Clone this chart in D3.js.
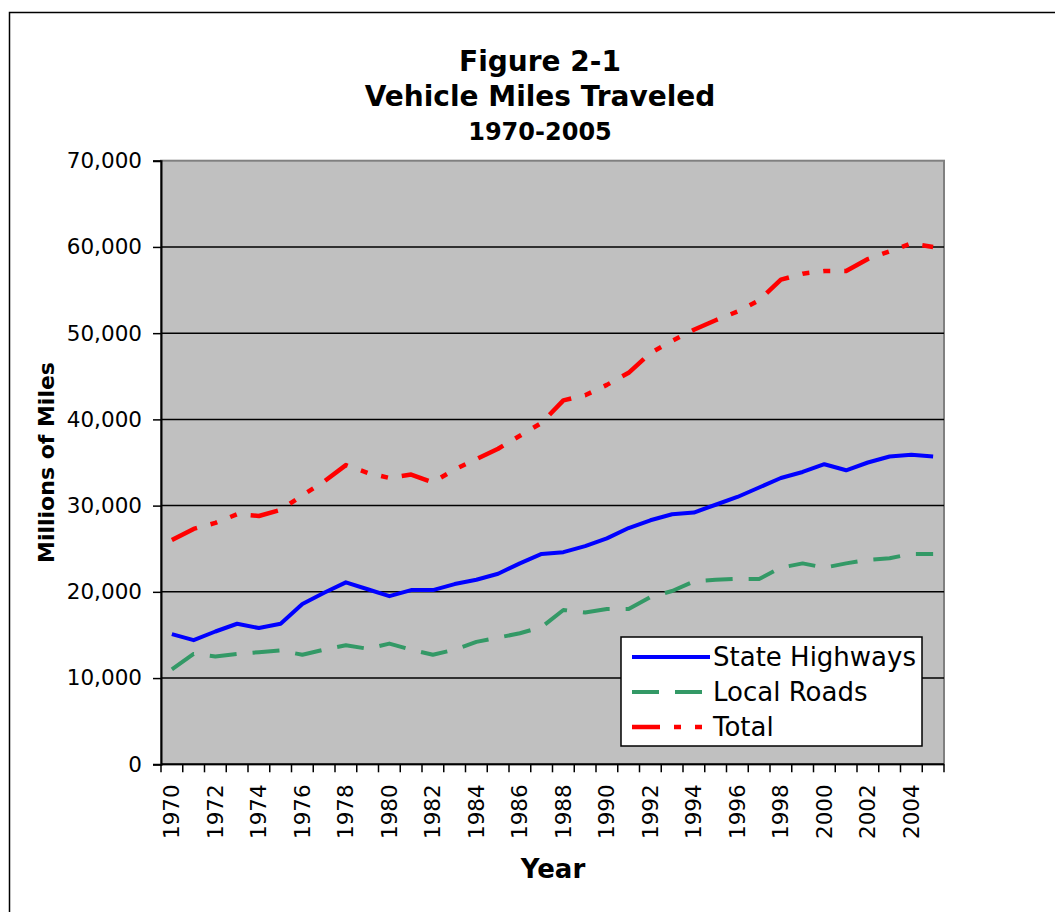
<html>
<head>
<meta charset="utf-8">
<style>
body { margin: 0; background: #ffffff; }
text { font-family: "DejaVu Sans", Verdana, sans-serif; fill: #000; }
</style>
</head>
<body>
<div id="plot"></div>

<script src="https://d3js.org/d3.v7.min.js"></script>
<script type="text/javascript">
// data (millions of miles)
var years = [1970, 1971, 1972, 1973, 1974, 1975, 1976, 1977, 1978, 1979,
             1980, 1981, 1982, 1983, 1984, 1985, 1986, 1987, 1988, 1989,
             1990, 1991, 1992, 1993, 1994, 1995, 1996, 1997, 1998, 1999,
             2000, 2001, 2002, 2003, 2004, 2005];

var stateHighways = [15100, 14400, 15400, 16300, 15800, 16300, 18600, 19900, 21100, 20300,
                     19500, 20200, 20200, 20900, 21400, 22100, 23300, 24400, 24600, 25300,
                     26200, 27400, 28300, 29000, 29200, 30100, 31000, 32100, 33200, 33900,
                     34800, 34100, 35000, 35700, 35900, 35700];

var localRoads = [11000, 12800, 12500, 12800, 13000, 13200, 12700, 13300, 13800, 13400,
                  14000, 13300, 12700, 13300, 14200, 14700, 15200, 15900, 17900, 17600,
                  18000, 18000, 19400, 20100, 21200, 21400, 21500, 21500, 22800, 23300,
                  22800, 23300, 23700, 23900, 24400, 24400];

var total = [26000, 27300, 28000, 29000, 28800, 29500, 31200, 32800, 34700, 33800,
             33200, 33600, 32700, 34200, 35400, 36600, 38100, 39600, 42200, 42800,
             44000, 45400, 47700, 49100, 50400, 51500, 52500, 53800, 56200, 56900,
             57200, 57200, 58600, 59500, 60400, 60000];

var yTicks = [0, 10000, 20000, 30000, 40000, 50000, 60000, 70000];
var xLabels = years.filter(function(d){ return d % 2 == 0; });

var seriesNames = ["State Highways", "Local Roads", "Total"];

var W = 1055, H = 912;
var plot = {left: 161, right: 944, top: 160.7, bottom: 764.3};

var svg = d3.select("#plot")
    .append("svg")
    .attr("width", W)
    .attr("height", H);

// outer frame
svg.append("rect")
    .attr("x", 9.5).attr("y", 12.5)
    .attr("width", 1100).attr("height", 1000)
    .attr("fill", "white")
    .attr("stroke", "#000")
    .attr("stroke-width", 1.5);

var x = d3.scaleBand()
    .domain(years)
    .range([plot.left, plot.right])
    .paddingInner(0).paddingOuter(0);

var y = d3.scaleLinear()
    .domain([0, 70000])
    .range([plot.bottom, plot.top]);

// plot area
svg.append("rect")
    .attr("x", plot.left).attr("y", plot.top)
    .attr("width", plot.right - plot.left)
    .attr("height", plot.bottom - plot.top)
    .attr("fill", "#c0c0c0")
    .attr("stroke", "#808080")
    .attr("stroke-width", 2);

// gridlines
svg.append("g")
    .selectAll("line")
    .data(yTicks.filter(function(d){ return d > 0 && d < 70000; }))
    .enter().append("line")
    .attr("x1", plot.left).attr("x2", plot.right)
    .attr("y1", function(d){ return y(d); })
    .attr("y2", function(d){ return y(d); })
    .attr("stroke", "#000")
    .attr("stroke-width", 1.5);

// y axis
var yAxis = svg.append("g")
    .attr("transform", "translate(" + plot.left + ",0)")
    .call(d3.axisLeft(y).tickValues(yTicks).tickSize(8).tickPadding(11)
          .tickFormat(d3.format(",")));
yAxis.select(".domain").attr("stroke", "#000").attr("stroke-width", 2);
yAxis.selectAll(".tick line").attr("stroke", "#000").attr("stroke-width", 1.5);
yAxis.selectAll("text")
    .style("font-family", "DejaVu Sans, Verdana, sans-serif")
    .style("font-size", "21.5px")
    .attr("fill", "#000");

// x axis: ticks on category boundaries, labels every other year
var bounds = years.map(function(d){ return x(d); }).concat([x(years[years.length-1]) + x.bandwidth()]);
svg.append("g")
    .selectAll("line")
    .data(bounds)
    .enter().append("line")
    .attr("x1", function(d){ return d; }).attr("x2", function(d){ return d; })
    .attr("y1", plot.bottom).attr("y2", plot.bottom + 8)
    .attr("stroke", "#000")
    .attr("stroke-width", 1.5);

svg.append("line")
    .attr("x1", plot.left).attr("x2", plot.right)
    .attr("y1", plot.bottom).attr("y2", plot.bottom)
    .attr("stroke", "#000").attr("stroke-width", 2);

var xAxis = svg.append("g")
    .attr("transform", "translate(0," + plot.bottom + ")")
    .call(d3.axisBottom(x).tickValues(xLabels).tickSize(0).tickPadding(0));
xAxis.select(".domain").remove();
xAxis.selectAll("text")
    .style("font-family", "DejaVu Sans, Verdana, sans-serif")
    .style("font-size", "21.5px")
    .attr("fill", "#000")
    .attr("transform", "rotate(-90)")
    .attr("text-anchor", "end")
    .attr("x", -20)
    .attr("y", 0)
    .attr("dy", "0.35em");

// lines
var series = [
  {name: seriesNames[0], values: stateHighways, color: "#0000ff", dash: null, width: 4},
  {name: seriesNames[1], values: localRoads, color: "#339966", dash: "27,16", width: 4},
  {name: seriesNames[2], values: total, color: "#ff0000", dash: "28,14,7,14,7,14", width: 4.5}
];

var line = d3.line()
    .x(function(d, i){ return x(years[i]) + x.bandwidth() / 2; })
    .y(function(d){ return y(d); });

svg.append("g")
    .selectAll("path")
    .data(series)
    .enter().append("path")
    .attr("d", function(d){ return line(d.values); })
    .attr("fill", "none")
    .attr("stroke", function(d){ return d.color; })
    .attr("stroke-width", function(d){ return d.width; })
    .attr("stroke-dasharray", function(d){ return d.dash; })
    .attr("stroke-linejoin", "round");

// legend
var legend = svg.append("g");
legend.append("rect")
    .attr("x", 621).attr("y", 637)
    .attr("width", 301).attr("height", 109)
    .attr("fill", "white")
    .attr("stroke", "#000")
    .attr("stroke-width", 1.5);

var rows = legend.selectAll("g.row")
    .data(series)
    .enter().append("g")
    .attr("class", "row")
    .attr("transform", function(d, i){ return "translate(0," + (657 + i * 35) + ")"; });

rows.append("line")
    .attr("x1", 632).attr("x2", 710)
    .attr("y1", 0).attr("y2", 0)
    .attr("stroke", function(d){ return d.color; })
    .attr("stroke-width", function(d){ return d.width; })
    .attr("stroke-dasharray", function(d){ return d.dash; });

rows.append("text")
    .attr("x", 713)
    .attr("y", 0)
    .attr("dy", "0.36em")
    .style("font-size", "26px")
    .text(function(d){ return d.name; });

// titles
svg.append("text")
    .attr("x", 540).attr("y", 71)
    .attr("text-anchor", "middle")
    .style("font-size", "28px").style("font-weight", "bold")
    .text("Figure 2-1");
svg.append("text")
    .attr("x", 540).attr("y", 106)
    .attr("text-anchor", "middle")
    .style("font-size", "28px").style("font-weight", "bold")
    .text("Vehicle Miles Traveled");
svg.append("text")
    .attr("x", 540).attr("y", 140)
    .attr("text-anchor", "middle")
    .style("font-size", "24px").style("font-weight", "bold")
    .text("1970-2005");

// axis titles
svg.append("text")
    .attr("transform", "translate(54," + ((plot.top + plot.bottom) / 2) + ") rotate(-90)")
    .attr("text-anchor", "middle")
    .style("font-size", "22px").style("font-weight", "bold")
    .text("Millions of Miles");

svg.append("text")
    .attr("x", 553).attr("y", 878)
    .attr("text-anchor", "middle")
    .style("font-size", "26px").style("font-weight", "bold")
    .text("Year");
</script>
</body>
</html>
